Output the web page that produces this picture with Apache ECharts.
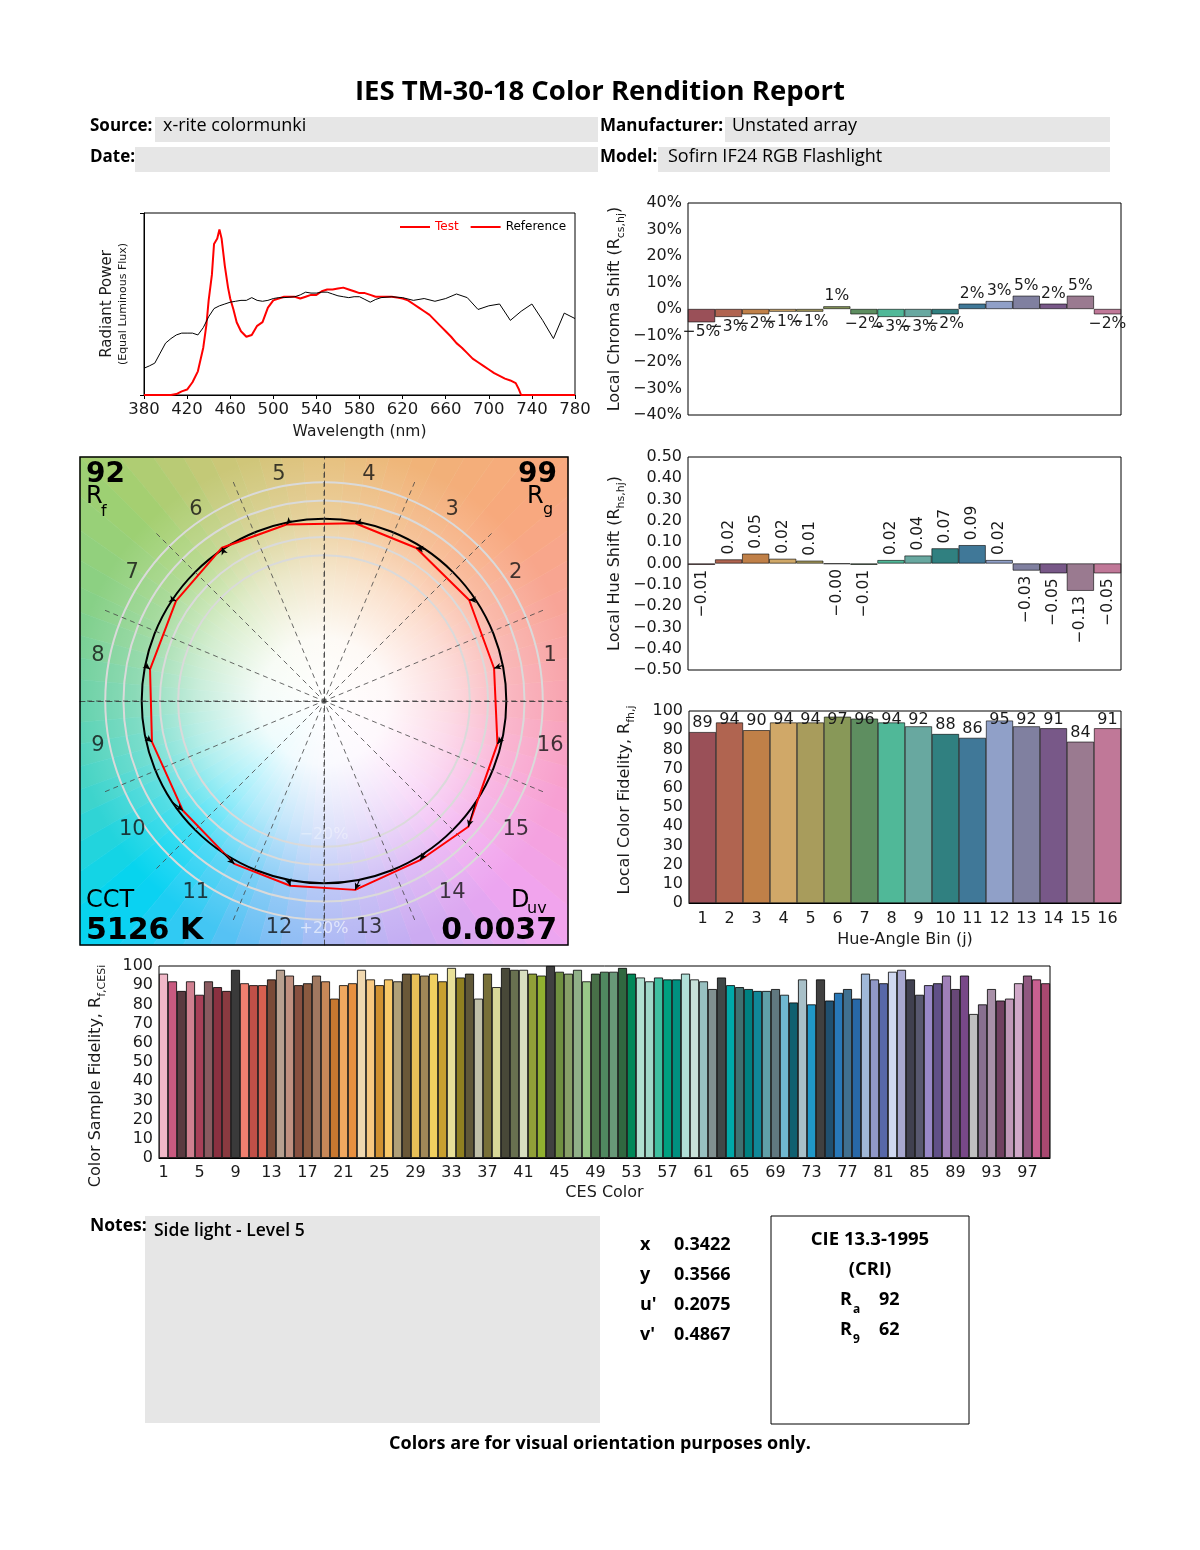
<!DOCTYPE html>
<html>
<head>
<meta charset="utf-8">
<title>IES TM-30-18 Color Rendition Report</title>
<script src="https://cdn.jsdelivr.net/npm/echarts@6/dist/echarts.min.js"></script>
<style>
html,body{margin:0;padding:0;background:#fff;}
#report{width:1200px;height:1550px;}
</style>
</head>
<body>
<div id="report"></div>
<script>
// spectra (relative power)
var testWl = [380,390,400,405,410,415,420,425,430,435,438,440,443,445,448,450,452,455,458,460,463,466,470,475,480,485,490,495,500,505,510,515,520,525,530,535,540,545,550,555,560,565,570,575,580,585,590,595,600,605,610,615,620,625,630,635,640,645,650,655,660,665,670,675,680,685,690,695,700,705,710,715,720,725,728,730,740,760,780];
var testPow = [0,0,0,0,0.005,0.02,0.03,0.07,0.13,0.26,0.39,0.52,0.66,0.83,0.86,0.91,0.86,0.71,0.59,0.53,0.47,0.40,0.35,0.32,0.33,0.38,0.40,0.48,0.52,0.53,0.54,0.54,0.54,0.53,0.54,0.55,0.55,0.57,0.58,0.58,0.585,0.59,0.58,0.57,0.56,0.56,0.55,0.54,0.54,0.54,0.54,0.535,0.53,0.52,0.50,0.48,0.46,0.44,0.41,0.38,0.35,0.32,0.285,0.26,0.23,0.20,0.18,0.16,0.14,0.12,0.105,0.09,0.08,0.065,0.03,0,0,0,0];
var refWl = [380,385,390,395,400,405,410,415,420,425,430,435,440,445,450,455,460,465,470,475,480,485,490,495,500,505,510,520,525,530,535,540,545,550,555,560,565,570,575,580,585,590,595,600,610,620,630,640,650,660,670,680,690,700,710,720,730,740,750,760,770,780];
var refPow = [0.147,0.16,0.175,0.23,0.285,0.31,0.33,0.34,0.34,0.34,0.33,0.37,0.43,0.475,0.49,0.50,0.51,0.515,0.52,0.52,0.535,0.52,0.515,0.52,0.53,0.535,0.535,0.54,0.55,0.565,0.56,0.56,0.565,0.565,0.555,0.545,0.54,0.535,0.54,0.54,0.525,0.51,0.525,0.535,0.54,0.535,0.52,0.53,0.515,0.53,0.555,0.535,0.47,0.49,0.50,0.41,0.46,0.50,0.41,0.31,0.45,0.42];

// 16 hue-angle bins
var bins = ['1','2','3','4','5','6','7','8','9','10','11','12','13','14','15','16'];
var binColors = ['#9a5058','#b06450','#c08048','#d0a868','#a89c5c','#889858','#5e8e60','#50b898','#68a8a0','#308080','#407898','#90a0c8','#8080a0','#785888','#9a7a90','#c07898'];
var chromaShift = [-5,-3,-2,-1,-1,1,-2,-3,-3,-2,2,3,5,2,5,-2];
var hueShift = [-0.006,0.019,0.046,0.022,0.013,-0.002,-0.006,0.016,0.037,0.071,0.086,0.016,-0.033,-0.046,-0.128,-0.046];
var localRf = [89,94,90,94,94,97,96,94,92,88,86,95,92,91,84,91];

// 99 CES samples
var cesRf = [96,92,87,92,85,92,89,87,98,91,
  90,90,93,98,95,90,91,95,92,83,
  90,91,98,93,90,93,92,96,96,95,
  96,92,99,94,96,83,96,89,99,98,
  98,96,95,100,97,96,98,92,96,97,
  97,99,96,94,92,94,93,93,96,93,
  92,88,94,90,89,88,87,87,88,85,
  81,93,80,93,82,86,88,83,96,93,
  91,97,98,93,85,90,91,95,88,95,
  75,80,88,82,83,91,95,93,91];
var cesColors = ['#f0b8c8','#c85a80','#5a3a40','#d08090','#a84058','#8a5a60','#8a3040','#8a3a40','#3a3a3a','#f08070',
  '#c05048','#d86050','#7a4a38','#b8a090','#c09080','#885040','#8a5a40','#a07860','#c88858','#c87830',
  '#f0a860','#e89040','#f0d8b0','#f8c880','#d09030','#f8c868','#b0a078','#6a5838','#e8c058','#a08858',
  '#f0d060','#c8a030','#e8e098','#908020','#605838','#c0c0a8','#787038','#d8d898','#484838','#687050',
  '#d8e0c0','#90a038','#90b030','#404040','#709040','#88a068','#90b088','#98c888','#487048','#508860',
  '#689878','#306840','#008858','#b0e0d0','#a0d8c8','#40c0a0','#00a080','#009080','#b0e0d8','#c8e0d8',
  '#98c0c0','#809090','#404848','#00a8a8','#407070','#008080','#108898','#60a0a8','#607880','#70b8d0',
  '#106070','#a8c0c8','#2098c8','#404040','#205070','#2878b8','#407090','#2868a8','#a0b8d8','#9098c8',
  '#5868a8','#d0d8f0','#a8a8d0','#404050','#585870','#9888c8','#605088','#a080b8','#684878','#784888',
  '#c0c0c0','#887090','#a890a8','#704060','#c098b8','#d0a8c8','#905880','#c86090','#a84870'];
var cesNames = cesRf.map(function(v, i){ return String(i + 1); });

(function(){
    var dom = document.getElementById('report');
    var myChart = echarts.init(dom);
    var mpl = 'DejaVu Sans';
    var rep = '"Open Sans", "Liberation Sans", sans-serif';
    var ink = '#1a1a1a';

    function minus(s){ return String(s).replace('-', '\u2212'); }

    // ---- colour wheel behind the vector graphic ----
    var cx = 324, cy = 701, half = 244;
    var wheelStops = [[0,'#f8a0b0'],[20,'#f8a49a'],[45,'#f8a87c'],[70,'#f0b478'],[90,'#e4c07c'],[115,'#c8c878'],[135,'#a0d070'],[160,'#84d08a'],[180,'#66d0a8'],[200,'#44d4c8'],[225,'#00d4f2'],[250,'#60c0f4'],[270,'#a8b8f4'],[295,'#d0aaf2'],[315,'#f0a4f0'],[340,'#f8a0d0'],[360,'#f8a0b0']];
    function hex(c){ return [parseInt(c.substr(1,2),16), parseInt(c.substr(3,2),16), parseInt(c.substr(5,2),16)]; }
    function wheelColor(a){
        for (var i = 0; i < wheelStops.length - 1; i++) {
            var s0 = wheelStops[i], s1 = wheelStops[i+1];
            if (a >= s0[0] && a <= s1[0]) {
                var t = (a - s0[0]) / (s1[0] - s0[0]);
                var c0 = hex(s0[1]), c1 = hex(s1[1]);
                return 'rgb(' + Math.round(c0[0]+(c1[0]-c0[0])*t) + ',' + Math.round(c0[1]+(c1[1]-c0[1])*t) + ',' + Math.round(c0[2]+(c1[2]-c0[2])*t) + ')';
            }
        }
        return wheelStops[0][1];
    }
    function edge(a){
        var r = a * Math.PI / 180, c = Math.cos(r), s = Math.sin(r);
        var t = half / Math.max(Math.abs(c), Math.abs(s));
        return [cx + t * c, cy - t * s];
    }
    var graphics = [];
    for (var k = 0; k < 72; k++) {
        var col = wheelColor(k * 5 + 2.5);
        graphics.push({type:'polygon', z:-10, silent:true,
            shape:{points:[[cx,cy], edge(k*5), edge(k*5+5)]},
            style:{fill:col, stroke:col, lineWidth:0.6}});
    }
    graphics.push({type:'circle', z:-9, silent:true, shape:{cx:cx, cy:cy, r:252},
        style:{fill:new echarts.graphic.RadialGradient(0.5,0.5,0.5,[
            {offset:0, color:'rgba(255,255,255,1)'},
            {offset:0.25, color:'rgba(255,255,255,0.93)'},
            {offset:0.5, color:'rgba(255,255,255,0.62)'},
            {offset:0.75, color:'rgba(255,255,255,0.22)'},
            {offset:1, color:'rgba(255,255,255,0)'}])}});
    graphics.push({type:'rect', z:20, silent:true, shape:{x:80, y:457, width:488, height:488},
        style:{fill:'none', stroke:'#000', lineWidth:1.5}});

    function txt(x, y, s, font, align, fill){
        return {type:'text', z:21, silent:true, x:x, y:y,
            style:{text:s, font:font, fill:fill || '#000', align:align || 'left', verticalAlign:'middle'}};
    }
    function box(x, y, w, h){
        return {type:'rect', z:1, silent:true, shape:{x:x, y:y, width:w, height:h}, style:{fill:'#e6e6e6'}};
    }

    // report header
    graphics.push(txt(600, 92, 'IES TM-30-18 Color Rendition Report', 'bold 27.5px ' + rep, 'center'));
    graphics.push(box(155,117,443,25), box(725,117,385,25), box(135,147,463,25), box(658,147,452,25));
    graphics.push(txt(90, 126, 'Source:', 'bold 17px ' + rep));
    graphics.push(txt(163, 126, 'x-rite colormunki', '18px ' + rep));
    graphics.push(txt(600, 126, 'Manufacturer:', 'bold 17px ' + rep));
    graphics.push(txt(732, 126, 'Unstated array', '18px ' + rep));
    graphics.push(txt(90, 157, 'Date:', 'bold 17px ' + rep));
    graphics.push(txt(600, 157, 'Model:', 'bold 17px ' + rep));
    graphics.push(txt(668, 157, 'Sofirn IF24 RGB Flashlight', '18px ' + rep));

    // numbers in the corners of the vector graphic
    graphics.push(txt(86, 475, '92', 'bold 28px ' + mpl));
    graphics.push(txt(86, 497, 'R', '24px ' + mpl));
    graphics.push(txt(101, 512, 'f', '16px ' + mpl));
    graphics.push(txt(557, 475, '99', 'bold 28px ' + mpl, 'right'));
    graphics.push(txt(527, 497, 'R', '24px ' + mpl));
    graphics.push(txt(543, 510, 'g', '16px ' + mpl));
    graphics.push(txt(86, 901, 'CCT', '24px ' + mpl));
    graphics.push(txt(86, 931, '5126 K', 'bold 30px ' + mpl));
    graphics.push(txt(511, 901, 'D', '24px ' + mpl));
    graphics.push(txt(527, 909, 'uv', '16px ' + mpl));
    graphics.push(txt(557, 931, '0.0037', 'bold 30px ' + mpl, 'right'));
    graphics.push(txt(324, 929, '+20%', '16px ' + mpl, 'center', 'rgba(255,255,255,0.6)'));
    graphics.push(txt(324, 835, '\u221220%', '16px ' + mpl, 'center', 'rgba(255,255,255,0.35)'));

    // notes and chromaticity block
    graphics.push(txt(90, 1226, 'Notes:', 'bold 17.5px ' + rep));
    graphics.push({type:'rect', z:1, silent:true, shape:{x:145, y:1216, width:455, height:207}, style:{fill:'#e6e6e6'}});
    graphics.push(txt(154, 1231, 'Side light - Level 5', '600 17.5px ' + rep));
    var chromLabels = ['x','y',"u'","v'"], chromValues = ['0.3422','0.3566','0.2075','0.4867'];
    for (var i = 0; i < 4; i++) {
        graphics.push(txt(640, 1245 + i*30, chromLabels[i], 'bold 18px ' + rep));
        graphics.push(txt(674, 1245 + i*30, chromValues[i], 'bold 18px ' + rep));
    }
    graphics.push({type:'rect', z:1, silent:true, shape:{x:771, y:1216, width:198, height:208}, style:{fill:'none', stroke:'#000', lineWidth:1}});
    graphics.push(txt(870, 1240, 'CIE 13.3-1995', 'bold 18.5px ' + rep, 'center'));
    graphics.push(txt(870, 1270, '(CRI)', 'bold 18.5px ' + rep, 'center'));
    graphics.push(txt(840, 1300, 'R', 'bold 18px ' + rep));
    graphics.push(txt(853, 1310, 'a', 'bold 12px ' + rep));
    graphics.push(txt(879, 1300, '92', 'bold 18px ' + rep));
    graphics.push(txt(840, 1330, 'R', 'bold 18px ' + rep));
    graphics.push(txt(853, 1340, '9', 'bold 12px ' + rep));
    graphics.push(txt(879, 1330, '62', 'bold 18px ' + rep));
    graphics.push(txt(600, 1444, 'Colors are for visual orientation purposes only.', 'bold 18px ' + rep, 'center'));

    // ---- series data ----
    var testData = testWl.map(function(w, i){ return [w, testPow[i]]; });
    var refData = refWl.map(function(w, i){ return [w, refPow[i]]; });

    var chromaData = chromaShift.map(function(v, i){
        return {value:v, itemStyle:{color:binColors[i]}, label:{position: v >= 0 ? 'top' : 'bottom'}};
    });
    var hueData = hueShift.map(function(v, i){
        return {value:v, itemStyle:{color:binColors[i]},
            label:{position: v >= 0 ? 'top' : 'bottom', align: v >= 0 ? 'left' : 'right'}};
    });
    // labels of the tall bars are held down below the top frame, as in the report
    var labelCap = 90.6, pxPerUnit = 1.92;
    var localData = localRf.map(function(v, i){
        return {value:v, itemStyle:{color:binColors[i]},
            label:{offset:[0, Math.max(0, (v - labelCap) * pxPerUnit)]}};
    });
    var cesData = cesRf.map(function(v, i){ return {value:v, itemStyle:{color:cesColors[i]}}; });

    // vector graphic: test points = reference (r=1 at bin centre) shifted by chroma and hue shift
    var polyData = [], arrowData = [], binLabelData = [];
    for (var j = 0; j < 16; j++) {
        var a1 = (j + 0.5) * 22.5;
        var r2 = 1 + chromaShift[j] / 100;
        var a2 = a1 + hueShift[j] * 180 / Math.PI;
        polyData.push([r2, a2]);
        var dx = r2 * Math.cos(a2 * Math.PI / 180) - Math.cos(a1 * Math.PI / 180);
        var dy = r2 * Math.sin(a2 * Math.PI / 180) - Math.sin(a1 * Math.PI / 180);
        var rot = Math.atan2(dy, dx) * 180 / Math.PI - 90;
        arrowData.push({value:[1, a1]}, {value:[r2, a2], symbol:'arrow', symbolSize:[5,7], symbolRotate:rot}, '-');
        binLabelData.push([1.265, a1]);
    }
    polyData.push(polyData[0]);

    var gridBorder = {show:true, borderColor:'#000', borderWidth:1, containLabel:false};
    var tickLab = {fontSize:16, color:ink, fontFamily:mpl};
    var sub = {a:{fontSize:16, color:ink, lineHeight:24, verticalAlign:'middle'}, b:{fontSize:11, color:ink, lineHeight:12, verticalAlign:'bottom'}};

    option = {
        backgroundColor:'#fff',
        animation:false,
        textStyle:{fontFamily:mpl},
        graphic:{elements:graphics},
        legend:{
            left:395, top:216, icon:'rect', itemWidth:30, itemHeight:2, itemGap:12,
            textStyle:{fontSize:12, color:'#000', fontFamily:mpl},
            data:[{name:'Test', textStyle:{color:'#ff0000'}}, {name:'Reference', itemStyle:{color:'#ff0000'}}]
        },
        grid:[
            Object.assign({left:144, top:213, width:431, height:182}, gridBorder),
            Object.assign({left:688, top:203, width:433, height:212}, gridBorder),
            Object.assign({left:688, top:457, width:433, height:213}, gridBorder),
            Object.assign({left:689, top:711, width:432, height:192}, gridBorder),
            Object.assign({left:159, top:966, width:891, height:192}, gridBorder),
            {left:80, top:457, width:488, height:488, show:false}
        ],
        xAxis:[
            {gridIndex:0, type:'value', min:380, max:780, interval:40,
                axisLine:{lineStyle:{color:'#000'}}, axisTick:{length:4, lineStyle:{color:'#000'}},
                axisLabel:{fontSize:16.5, color:ink, margin:6}, splitLine:{show:false},
                name:'Wavelength (nm)', nameLocation:'middle', nameGap:29, nameTextStyle:{fontSize:15.5, color:ink}},
            {gridIndex:1, type:'category', data:bins, axisLine:{show:false}, axisTick:{show:false}, axisLabel:{show:false}},
            {gridIndex:2, type:'category', data:bins, axisLine:{show:false}, axisTick:{show:false}, axisLabel:{show:false}},
            {gridIndex:3, type:'category', data:bins, axisLine:{lineStyle:{color:'#000'}}, axisTick:{show:false},
                axisLabel:tickLab, name:'Hue-Angle Bin (j)', nameLocation:'middle', nameGap:29, nameTextStyle:{fontSize:16, color:ink}},
            {gridIndex:4, type:'category', data:cesNames, axisLine:{lineStyle:{color:'#000'}},
                axisTick:{alignWithLabel:true, interval:3, length:4, lineStyle:{color:'#000'}},
                axisLabel:{fontSize:16, color:ink, interval:3, margin:7},
                name:'CES Color', nameLocation:'middle', nameGap:27, nameTextStyle:{fontSize:16, color:ink}},
            {gridIndex:5, type:'value', min:-1, max:1, axisLabel:{show:false}, axisTick:{show:false}, splitLine:{show:false},
                axisLine:{onZero:true, lineStyle:{type:[5,4], color:'#333', width:0.8}}}
        ],
        yAxis:[
            {gridIndex:0, type:'value', min:0, max:1, interval:1,
                axisLine:{lineStyle:{color:'#000'}}, axisTick:{length:4, lineStyle:{color:'#000'}},
                axisLabel:{show:false}, splitLine:{show:false},
                name:'{a|Radiant Power}\n{b|(Equal Luminous Flux)}', nameLocation:'middle', nameGap:14,
                nameTextStyle:{rich:{a:{fontSize:15, color:ink, lineHeight:18}, b:{fontSize:11, color:ink, lineHeight:14}}}},
            {gridIndex:1, type:'value', min:-40, max:40, interval:10,
                axisLine:{lineStyle:{color:'#000'}}, axisTick:{length:4, lineStyle:{color:'#000'}}, splitLine:{show:false},
                axisLabel:{fontSize:16, color:ink, margin:6, formatter:function(v){ return minus(v) + '%'; }},
                name:'{a|Local Chroma Shift (R}{b|cs,hj}{a|)}', nameLocation:'middle', nameGap:61, nameTextStyle:{rich:sub}},
            {gridIndex:2, type:'value', min:-0.5, max:0.5, interval:0.1,
                axisLine:{lineStyle:{color:'#000'}}, axisTick:{length:4, lineStyle:{color:'#000'}}, splitLine:{show:false},
                axisLabel:{fontSize:16, color:ink, margin:6, formatter:function(v){ return minus(v.toFixed(2)); }},
                name:'{a|Local Hue Shift (R}{b|hs,hj}{a|)}', nameLocation:'middle', nameGap:61, nameTextStyle:{rich:sub}},
            {gridIndex:3, type:'value', min:0, max:100, interval:10,
                axisLine:{lineStyle:{color:'#000'}}, axisTick:{length:4, lineStyle:{color:'#000'}}, splitLine:{show:false},
                axisLabel:{fontSize:16, color:ink, margin:6},
                name:'{a|Local Color Fidelity, R}{b|fh,j}', nameLocation:'middle', nameGap:52,
                nameTextStyle:{rich:sub, padding:[0,0,0,14]}},
            {gridIndex:4, type:'value', min:0, max:100, interval:10,
                axisLine:{lineStyle:{color:'#000'}}, axisTick:{length:4, lineStyle:{color:'#000'}}, splitLine:{show:false},
                axisLabel:{fontSize:16, color:ink, margin:6},
                name:'{a|Color Sample Fidelity, R}{b|f,CESi}', nameLocation:'middle', nameGap:51,
                nameTextStyle:{rich:sub, padding:[0,28,0,0]}},
            {gridIndex:5, type:'value', min:-1, max:1, axisLabel:{show:false}, axisTick:{show:false}, splitLine:{show:false},
                axisLine:{onZero:true, lineStyle:{type:[5,4], color:'#333', width:0.8}}}
        ],
        polar:{center:[cx, cy], radius:237},
        radiusAxis:{min:0, max:1.3, interval:0.1, axisLine:{show:false}, axisTick:{show:false}, axisLabel:{show:false},
            splitLine:{show:true, lineStyle:{width:2, color:['rgba(0,0,0,0)','rgba(0,0,0,0)','rgba(0,0,0,0)','rgba(0,0,0,0)','rgba(0,0,0,0)','rgba(0,0,0,0)','rgba(0,0,0,0)','rgba(0,0,0,0)','#dadada','#dadada','#000000','#dadada','#dadada','rgba(0,0,0,0)']}}},
        angleAxis:{type:'value', min:0, max:360, interval:22.5, startAngle:0, clockwise:false,
            axisLine:{show:false}, axisTick:{show:false}, axisLabel:{show:false},
            splitLine:{show:true, lineStyle:{type:[5,4], color:'#444', width:0.8}}},
        series:[
            {name:'Test', type:'line', xAxisIndex:0, yAxisIndex:0, data:testData, symbol:'none',
                lineStyle:{color:'#ff0000', width:2}, itemStyle:{color:'#ff0000'}},
            {name:'Reference', type:'line', xAxisIndex:0, yAxisIndex:0, data:refData, symbol:'none',
                lineStyle:{color:'#000', width:1}, itemStyle:{color:'#000'}},
            {type:'bar', xAxisIndex:1, yAxisIndex:1, data:chromaData, barCategoryGap:'0%',
                itemStyle:{borderColor:'#000', borderWidth:0.6},
                label:{show:true, fontSize:15.5, color:ink, distance:2, formatter:function(p){ return minus(Math.round(p.value)) + '%'; }}},
            {type:'bar', xAxisIndex:2, yAxisIndex:2, data:hueData, barCategoryGap:'0%',
                itemStyle:{borderColor:'#000', borderWidth:0.6},
                label:{show:true, rotate:90, verticalAlign:'middle', fontSize:15.5, color:ink, distance:5,
                    formatter:function(p){ return minus(p.value.toFixed(2)); }}},
            {type:'bar', xAxisIndex:3, yAxisIndex:3, data:localData, barCategoryGap:'0%',
                itemStyle:{borderColor:'#000', borderWidth:0.6},
                label:{show:true, position:'top', fontSize:16, color:ink, distance:1}},
            {type:'bar', xAxisIndex:4, yAxisIndex:4, data:cesData, barCategoryGap:'0%',
                itemStyle:{borderColor:'#000', borderWidth:0.8}},
            {type:'line', coordinateSystem:'polar', data:polyData, symbol:'none', z:5,
                lineStyle:{color:'#ff0000', width:2}},
            {type:'line', coordinateSystem:'polar', data:arrowData, symbol:'circle', symbolSize:0, z:6,
                connectNulls:false, lineStyle:{color:'#000', width:1.2}, itemStyle:{color:'#000'}},
            {type:'scatter', coordinateSystem:'polar', data:binLabelData, symbolSize:1, z:6,
                itemStyle:{color:'rgba(0,0,0,0)'},
                label:{show:true, position:'inside', fontSize:21, color:'#111',
                    formatter:function(p){ return bins[p.dataIndex]; }}}
        ]
    };
    if (option && typeof option === 'object') {
        myChart.setOption(option, true);
    }
})();
</script>
</body>
</html>
